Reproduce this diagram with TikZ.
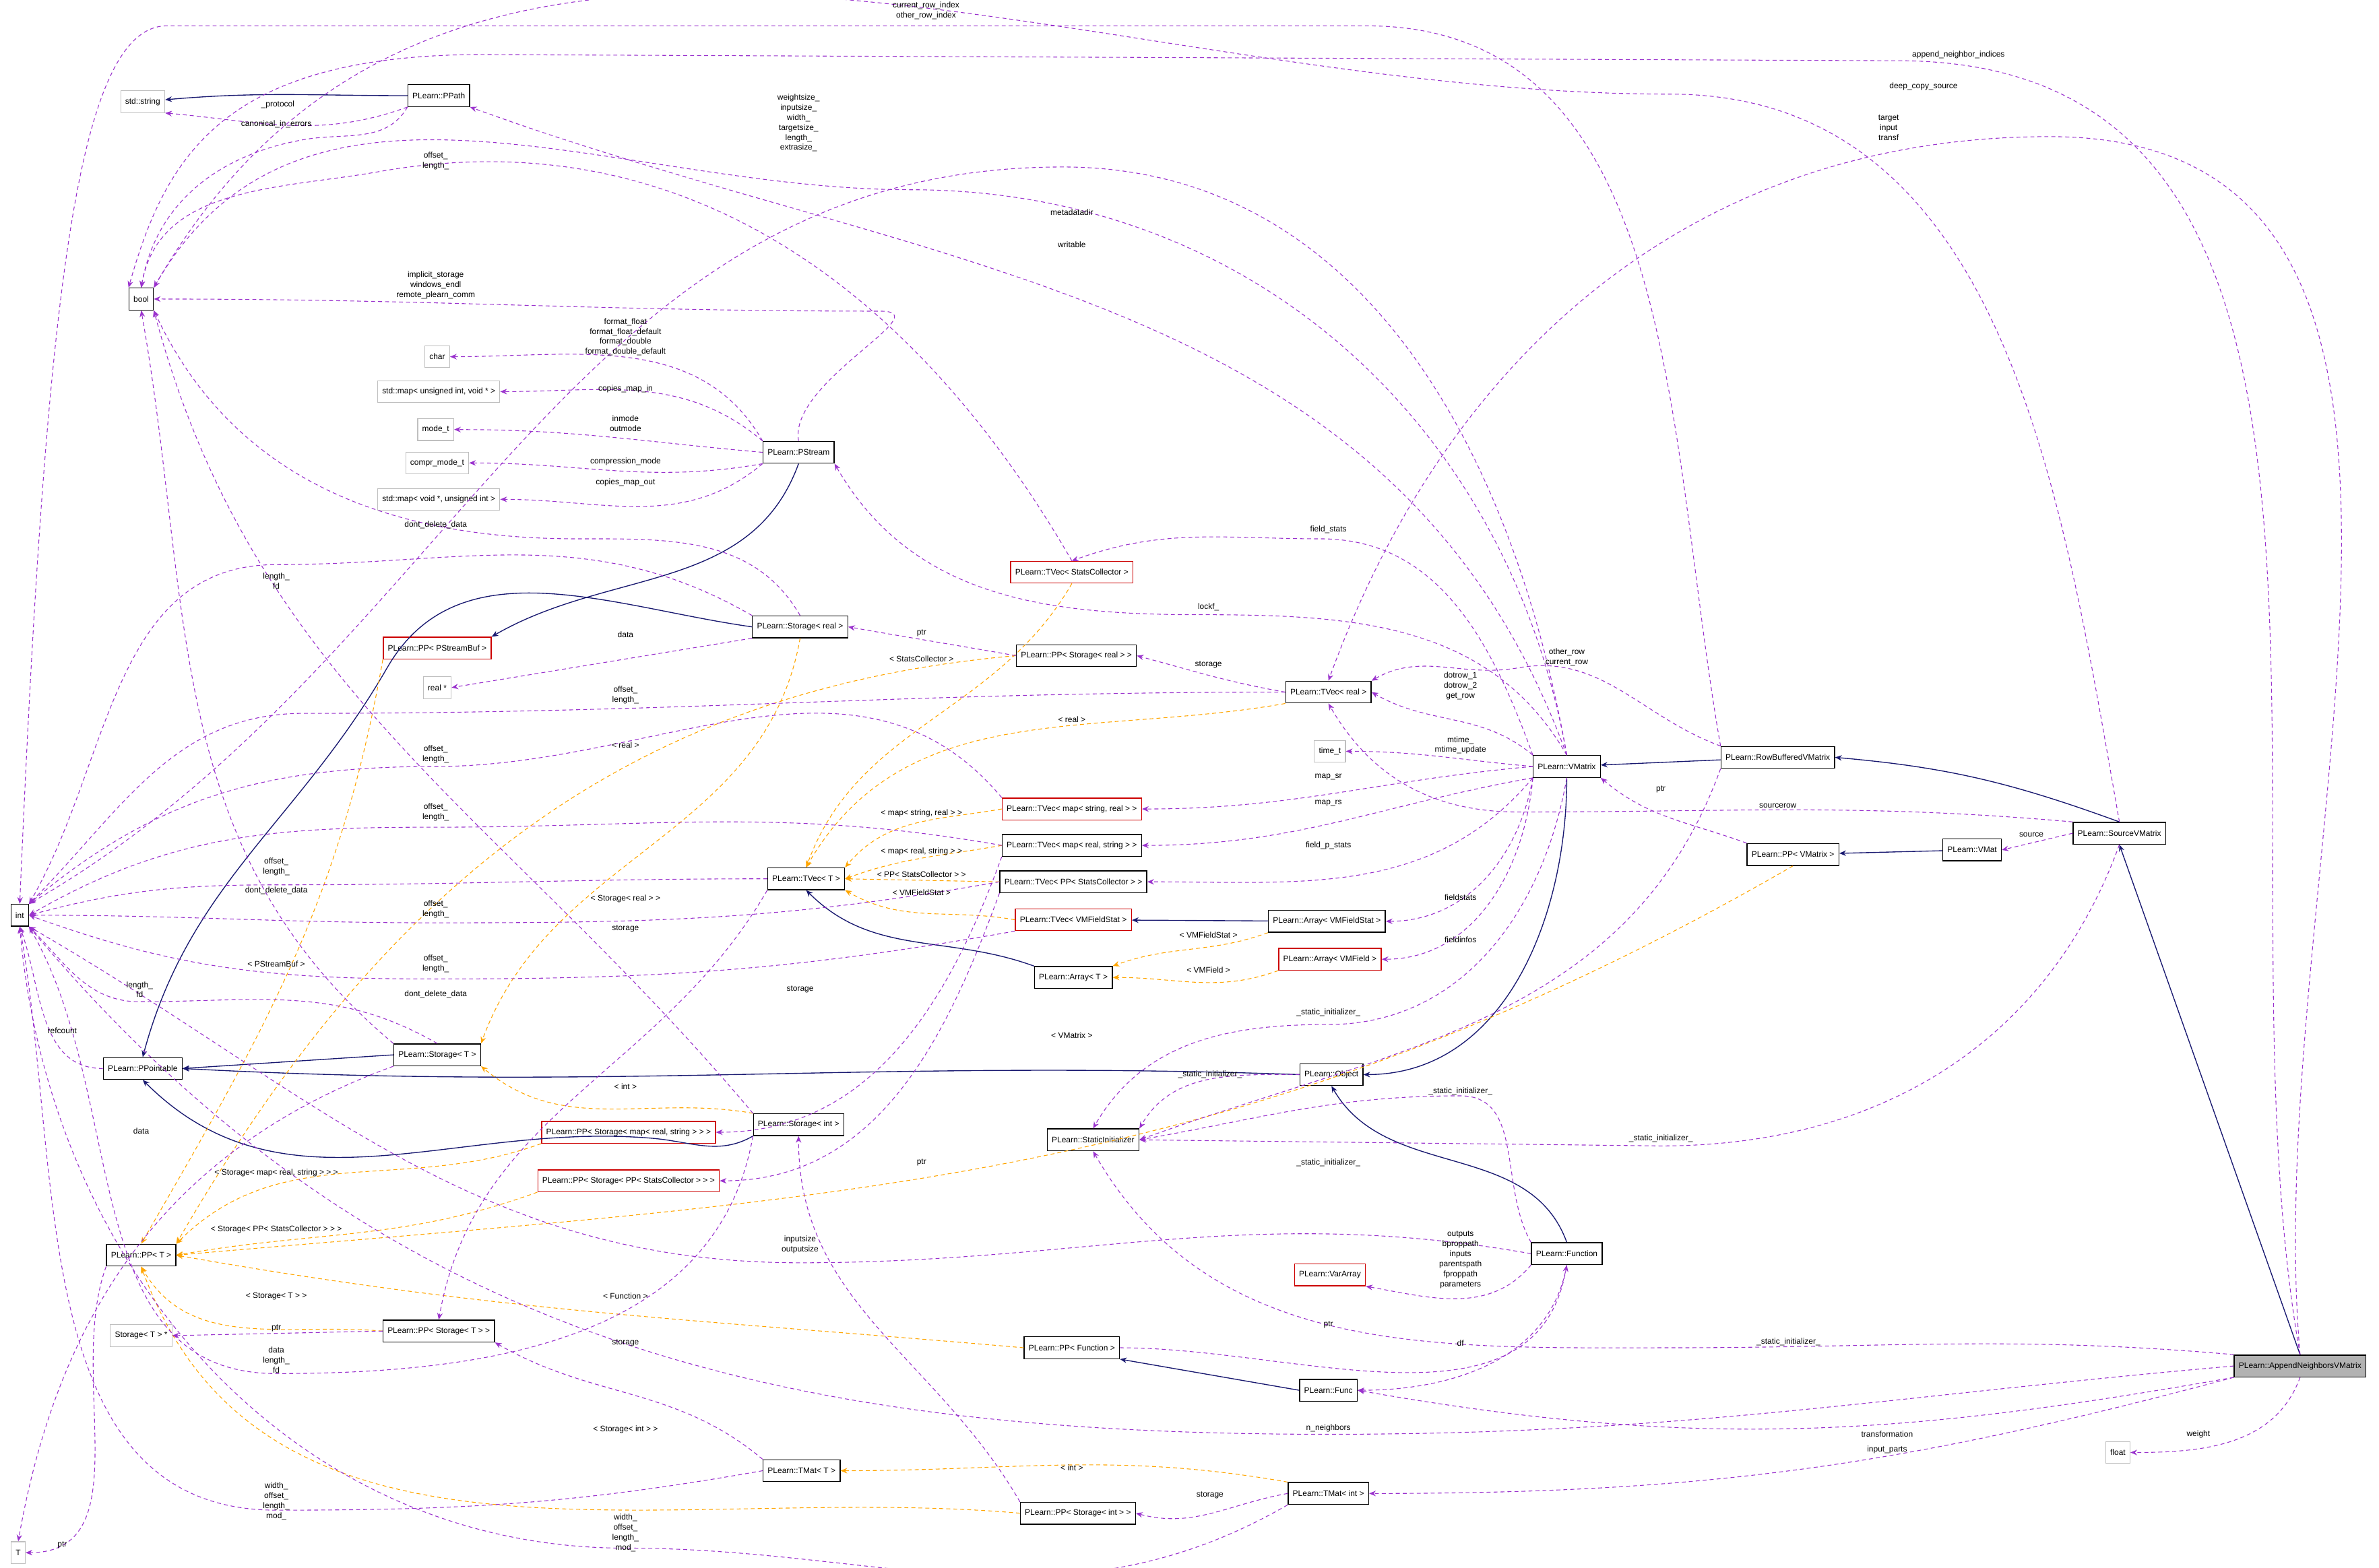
\documentclass[tikz,border=0pt]{standalone}
\usepackage{fontspec}
\setmainfont{Liberation Sans}
\usetikzlibrary{arrows.meta}
\begin{document}
\begin{tikzpicture}[x=0.25pt,y=-0.25pt,
  lbl/.style={font=\fontsize{1.33}{1.65}\selectfont, align=center, inner sep=0pt},
  cls/.style={draw=black, line width=0.15pt, fill=white, minimum height=3.6pt, inner xsep=0.75pt, inner ysep=0pt, font=\fontsize{1.33}{1.65}\selectfont},
  ext/.style={cls, draw=black!25, line width=0.12pt},
  redc/.style={cls, draw=red!80!black},
  cur/.style={cls, fill=black!30},
  pe/.style={draw={rgb,255:red,154;green,50;blue,205}, dash pattern=on 0.65pt off 0.5pt, line width=0.12pt, -{Stealth[length=1.1pt,width=0.9pt]}},
  oe/.style={pe, draw={rgb,255:red,255;green,165;blue,0}},
  ie/.style={draw={rgb,255:red,25;green,25;blue,112}, line width=0.15pt, -{Stealth[length=1.1pt,width=0.9pt]}}]
\useasboundingbox (0,0) rectangle (1567,1033);
% nodes
\node[ext] (str) at (94,67) {std::string};
\node[cls] (ppath) at (289,63) {PLearn::PPath};
\node[cls] (bool) at (93,197) {bool};
\node[ext] (char) at (288,235) {char};
\node[ext] (mapuv) at (289,258) {std::map< unsigned int, void * >};
\node[ext] (mode) at (287,283) {mode\_t};
\node[ext] (compr) at (288,305) {compr\_mode\_t};
\node[ext] (mapvu) at (289,329) {std::map< void *, unsigned int >};
\node[cls] (pstream) at (526,298) {PLearn::PStream};
\node[redc] (tvsc) at (706,377) {PLearn::TVec< StatsCollector >};
\node[cls] (streal) at (527,413) {PLearn::Storage< real >};
\node[redc] (ppsb) at (288,427) {PLearn::PP< PStreamBuf >};
\node[ext] (realp) at (288,453) {real *};
\node[cls] (ppstreal) at (709,432) {PLearn::PP< Storage< real > >};
\node[cls] (tvreal) at (875,456) {PLearn::TVec< real >};
\node[ext] (time) at (876,495) {time\_t};
\node[cls] (vmatrix) at (1032,505) {PLearn::VMatrix};
\node[cls] (rowbuf) at (1171,499) {PLearn::RowBufferedVMatrix};
\node[redc] (tvmsr) at (706,533) {PLearn::TVec< map< string, real > >};
\node[cls] (tvmrs) at (706,557) {PLearn::TVec< map< real, string > >};
\node[cls] (tvT) at (531,579) {PLearn::TVec< T >};
\node[cls] (tvppsc) at (707,581) {PLearn::TVec< PP< StatsCollector > >};
\node[cls] (int) at (13,603) {int};
\node[cls] (arrvfs) at (874,607) {PLearn::Array< VMFieldStat >};
\node[redc] (tvvfs) at (707,606) {PLearn::TVec< VMFieldStat >};
\node[redc] (arrvf) at (876,632) {PLearn::Array< VMField >};
\node[cls] (arrT) at (707,644) {PLearn::Array< T >};
\node[cls] (stT) at (288,695) {PLearn::Storage< T >};
\node[cls] (ppo) at (94,704) {PLearn::PPointable};
\node[cls] (object) at (877,708) {PLearn::Object};
\node[cls] (statini) at (720,751) {PLearn::StaticInitializer};
\node[cls] (stint) at (526,741) {PLearn::Storage< int >};
\node[redc] (ppstmap) at (414,746) {PLearn::PP< Storage< map< real, string > > >};
\node[redc] (ppstppsc) at (414,778) {PLearn::PP< Storage< PP< StatsCollector > > >};
\node[cls] (ppT) at (93,827) {PLearn::PP< T >};
\node[cls] (function) at (1032,826) {PLearn::Function};
\node[redc] (vararr) at (876,840) {PLearn::VarArray};
\node[ext] (stTp) at (93,880) {Storage< T > *};
\node[cls] (ppstT) at (289,877) {PLearn::PP< Storage< T > >};
\node[cls] (ppfun) at (706,888) {PLearn::PP< Function >};
\node[cls] (func) at (875,916) {PLearn::Func};
\node[cls] (srcvm) at (1396,549) {PLearn::SourceVMatrix};
\node[cls] (vmat) at (1299,560) {PLearn::VMat};
\node[cls] (ppvm) at (1181,563) {PLearn::PP< VMatrix >};
\node[cur] (app) at (1515,900) {PLearn::AppendNeighborsVMatrix};
\node[ext] (float) at (1395,957) {float};
\node[cls] (tmT) at (528,969) {PLearn::TMat< T >};
\node[cls] (tmint) at (875,984) {PLearn::TMat< int >};
\node[cls] (ppstint) at (710,997) {PLearn::PP< Storage< int > >};
\node[ext] (T) at (12,1023) {T};
% inheritance
\draw[ie] (ppath) to[out=180,in=5] (str);
\draw[ie] (pstream.south) to[out=-110,in=30] (ppsb.north east);
\draw[ie] (streal.west) to[out=172,in=60] (255,440) to[out=-120,in=75] (ppo.north);
\draw[ie] (stT.west) -- (ppo.east);
\draw[ie] (object.west) to[out=178,in=-3] (ppo.east);
\draw[ie] (stint.south west) to[out=-150,in=-5] (430,750) to[out=175,in=-45] (ppo.south);
\draw[ie] (arrvfs) -- (tvvfs);
\draw[ie] (arrT.north west) to[out=160,in=-45] (tvT.south);
\draw[ie] (vmatrix.south) to[out=-90,in=0] (object.east);
\draw[ie] (rowbuf) -- (vmatrix);
\draw[ie] (srcvm.north) to[out=160,in=-5] (rowbuf.east);
\draw[ie] (app.north) -- (srcvm.south);
\draw[ie] (vmat) -- (ppvm);
\draw[ie] (function.north) to[out=110,in=-60] (object.south);
\draw[ie] (func.west) -- (ppfun.south east);
% template instantiation
\draw[oe] (ppsb.south west) to[out=-100,in=60] (ppT.north);
\draw[oe] (streal.south) to[out=-100,in=70] (stT.north east);
\draw[oe] (stint.north west) to[out=170,in=-40] (stT.south east);
\draw[oe] (ppstreal.west) to[out=185,in=60] (ppT.north east);
\draw[oe] (ppstmap.south west) to[out=200,in=45] (ppT.north east);
\draw[oe] (ppstppsc.south west) to[out=200,in=10] (ppT.east);
\draw[oe] (ppstT.west) to[out=175,in=-60] (ppT.south);
\draw[oe] (ppfun.west) to[out=175,in=-10] (ppT.east);
\draw[oe] (ppvm.south) to[out=-150,in=5] (ppT.east);
\draw[oe] (ppstint.west) to[out=175,in=-70] (ppT.south);
\draw[oe] (tvsc.south) to[out=-120,in=70] (tvT.north);
\draw[oe] (tvreal.south west) to[out=190,in=60] (tvT.north);
\draw[oe] (tvmsr.west) to[out=190,in=50] (tvT.north east);
\draw[oe] (tvmrs.west) to[out=190,in=20] (tvT.east);
\draw[oe] (tvppsc.west) -- (tvT.east);
\draw[oe] (tvvfs.west) to[out=170,in=-30] (tvT.south east);
\draw[oe] (arrvfs.south west) to[out=200,in=20] (arrT.north east);
\draw[oe] (arrvf.south west) to[out=200,in=0] (arrT.east);
\draw[oe] (tmint.north west) to[out=170,in=0] (tmT.east);
% usage
\draw[pe] (ppath.south west) to[out=-160,in=-5] (str.south east);
\draw[pe] (ppath.south west) to[out=-120,in=10] (200,92) to[out=190,in=80] (bool.north);
\draw[pe] (pstream.north) to[out=100,in=0] (580,205) to[out=180,in=0] (bool.east);
\draw[pe] (pstream.north west) to[out=120,in=0] (char.east);
\draw[pe] (pstream.north west) to[out=140,in=0] (mapuv.east);
\draw[pe] (pstream.west) to[out=175,in=0] (mode.east);
\draw[pe] (pstream.south west) to[out=190,in=0] (compr.east);
\draw[pe] (pstream.south west) to[out=-140,in=0] (mapvu.east);
\draw[pe] (streal.north) to[out=120,in=0] (380,355) to[out=180,in=-65] (bool.south east);
\draw[pe] (streal.north west) to[out=150,in=0] (182,372) to[out=180,in=60] (int.north east);
\draw[pe] (streal.south west) -- (realp.east);
\draw[pe] (ppstreal.west) to[out=170,in=-10] (streal.east);
\draw[pe] (tvreal.west) to[out=170,in=-15] (ppstreal.east);
\draw[pe] (tvreal.west) to[out=180,in=0] (200,470) to[out=180,in=45] (int.north east);
\draw[pe] (vmatrix.north west) to[out=140,in=-30] (tvreal.east);
\draw[pe] (rowbuf.north west) to[out=160,in=10] (1000,440) to[out=190,in=30] (tvreal.north east);
\draw[pe] (srcvm.north west) to[out=175,in=0] (1000,535) to[out=180,in=-60] (tvreal.south);
\draw[pe] (app.north) to[out=95,in=0] (1350,90) to[out=180,in=70] (tvreal.north);
\draw[pe] (vmatrix.west) to[out=175,in=0] (time.east);
\draw[pe] (vmatrix.west) to[out=185,in=0] (tvmsr.east);
\draw[pe] (vmatrix.south west) to[out=190,in=0] (tvmrs.east);
\draw[pe] (vmatrix.south west) to[out=-130,in=0] (tvppsc.east);
\draw[pe] (vmatrix.north west) to[out=110,in=0] (870,355) to[out=180,in=20] (tvsc.north);
\draw[pe] (vmatrix.south west) to[out=-100,in=0] (arrvfs.east);
\draw[pe] (vmatrix.south west) to[out=-95,in=0] (arrvf.east);
\draw[pe] (vmatrix.south) to[out=-100,in=0] (875,675) to[out=180,in=60] (statini.north);
\draw[pe] (vmatrix.north) to[out=100,in=0] (700,110) to[out=180,in=30] (int.north east);
\draw[pe] (vmatrix.north) to[out=110,in=-20] (ppath.south east);
\draw[pe] (vmatrix.north) to[out=100,in=0] (600,125) to[out=180,in=60] (bool.north east);
\draw[pe] (vmatrix.north) to[out=120,in=0] (790,405) to[out=180,in=-60] (pstream.south east);
\draw[pe] (tvsc.north) to[out=120,in=10] (250,113) to[out=190,in=80] (bool.north);
\draw[pe] (tvmsr.north west) to[out=130,in=0] (287,505) to[out=180,in=40] (int.north east);
\draw[pe] (tvmrs.west) to[out=170,in=0] (287,545) to[out=180,in=30] (int.east);
\draw[pe] (tvT.west) to[out=180,in=0] (182,583) to[out=180,in=15] (int.east);
\draw[pe] (tvppsc.west) to[out=190,in=0] (287,608) to[out=180,in=0] (int.east);
\draw[pe] (tvvfs.south west) to[out=190,in=0] (287,645) to[out=180,in=-20] (int.east);
\draw[pe] (tvT.south west) to[out=-120,in=80] (ppstT.north);
\draw[pe] (tvmrs.south west) to[out=-110,in=0] (ppstmap.east);
\draw[pe] (tvppsc.south west) to[out=-110,in=0] (ppstppsc.east);
\draw[pe] (stT.north west) to[out=140,in=-80] (bool.south);
\draw[pe] (stT.north) to[out=150,in=0] (92,660) to[out=180,in=-45] (int.south east);
\draw[pe] (stT.south west) to[out=-160,in=80] (T.north);
\draw[pe] (stint.north west) to[out=130,in=-75] (bool.south east);
\draw[pe] (stint.south west) to[out=-100,in=0] (182,905) to[out=180,in=-60] (int.south east);
\draw[pe] (ppstT.west) -- (stTp.east);
\draw[pe] (ppT.south west) to[out=-110,in=0] (T.east);
\draw[pe] (ppstint.north west) to[out=120,in=-90] (stint.south);
\draw[pe] (ppo.west) to[out=180,in=-70] (int.south);
\draw[pe] (tmT.north west) to[out=140,in=-30] (ppstT.south east);
\draw[pe] (tmT.west) to[out=190,in=0] (182,995) to[out=180,in=-80] (int.south);
\draw[pe] (tmint.west) to[out=190,in=-15] (ppstint.east);
\draw[pe] (tmint.south west) to[out=-150,in=0] (412,1020) to[out=180,in=-85] (int.south);
\draw[pe] (object.west) to[out=180,in=60] (statini.north east);
\draw[pe] (function.north west) to[out=120,in=0] (962,722) to[out=180,in=10] (statini.east);
\draw[pe] (rowbuf.south west) to[out=-110,in=20] (statini.east);
\draw[pe] (srcvm.south) to[out=-110,in=0] (1094,755) -- (statini.east);
\draw[pe] (app.north west) to[out=175,in=0] (1100,888) to[out=180,in=-60] (statini.south);
\draw[pe] (function.south west) to[out=-130,in=-10] (vararr.south east);
\draw[pe] (function.west) to[out=170,in=0] (527,832) to[out=180,in=-30] (int.south east);
\draw[pe] (ppfun.east) to[out=0,in=-100] (function.south);
\draw[pe] (function.south) to[out=-100,in=0] (func.east);
\draw[pe] (app.south west) to[out=190,in=-10] (func.east);
\draw[pe] (app.west) to[out=185,in=0] (875,945) to[out=180,in=-50] (int.south east);
\draw[pe] (app.south west) to[out=195,in=0] (tmint.east);
\draw[pe] (app.south) to[out=-110,in=0] (float.east);
\draw[pe] (app.north) to[out=100,in=0] (1250,40) -- (330,36) .. controls (150,33) and (110,100) .. (bool.north west);
\draw[pe] (srcvm.north) to[out=100,in=0] (1100,62) to[out=180,in=60] (bool.north east);
\draw[pe] (rowbuf.north west) to[out=100,in=0] (900,17) -- (110,17) .. controls (50,17) and (30,200) .. (int.north);
\draw[pe] (ppvm.north west) to[out=160,in=-40] (vmatrix.south east);
\draw[pe] (srcvm.west) -- (vmat.east);
% labels
\node[lbl] at (183,69) {\_protocol};
\node[lbl] at (182,82) {canonical\_in\_errors};
\node[lbl] at (610,7) {current\_row\_index\\other\_row\_index};
\node[lbl] at (1290,36) {append\_neighbor\_indices};
\node[lbl] at (1267,57) {deep\_copy\_source};
\node[lbl] at (526,81) {weightsize\_\\inputsize\_\\width\_\\targetsize\_\\length\_\\extrasize\_};
\node[lbl] at (287,106) {offset\_\\length\_};
\node[lbl] at (1244,84) {target\\input\\transf};
\node[lbl] at (706,140) {metadatadir};
\node[lbl] at (706,161) {writable};
\node[lbl] at (287,188) {implicit\_storage\\windows\_endl\\remote\_plearn\_comm};
\node[lbl] at (412,222) {format\_float\\format\_float\_default\\format\_double\\format\_double\_default};
\node[lbl] at (412,256) {copies\_map\_in};
\node[lbl] at (412,279) {inmode\\outmode};
\node[lbl] at (412,304) {compression\_mode};
\node[lbl] at (412,318) {copies\_map\_out};
\node[lbl] at (287,346) {dont\_delete\_data};
\node[lbl] at (182,383) {length\_\\fd};
\node[lbl] at (412,418) {data};
\node[lbl] at (412,458) {offset\_\\length\_};
\node[lbl] at (412,491) {< real >};
\node[lbl] at (287,497) {offset\_\\length\_};
\node[lbl] at (287,535) {offset\_\\length\_};
\node[lbl] at (182,571) {offset\_\\length\_};
\node[lbl] at (182,587) {dont\_delete\_data};
\node[lbl] at (412,592) {< Storage< real > >};
\node[lbl] at (287,599) {offset\_\\length\_};
\node[lbl] at (412,612) {storage};
\node[lbl] at (182,635) {< PStreamBuf >};
\node[lbl] at (287,635) {offset\_\\length\_};
\node[lbl] at (527,652) {storage};
\node[lbl] at (92,652) {length\_\\fd};
\node[lbl] at (287,655) {dont\_delete\_data};
\node[lbl] at (41,679) {refcount};
\node[lbl] at (875,349) {field\_stats};
\node[lbl] at (796,400) {lockf\_};
\node[lbl] at (607,417) {ptr};
\node[lbl] at (607,434) {< StatsCollector >};
\node[lbl] at (796,438) {storage};
\node[lbl] at (1032,433) {other\_row\\current\_row};
\node[lbl] at (962,452) {dotrow\_1\\dotrow\_2\\get\_row};
\node[lbl] at (706,474) {< real >};
\node[lbl] at (962,491) {mtime\_\\mtime\_update};
\node[lbl] at (875,512) {map\_sr};
\node[lbl] at (875,529) {map\_rs};
\node[lbl] at (1094,520) {ptr};
\node[lbl] at (1171,531) {sourcerow};
\node[lbl] at (1338,550) {source};
\node[lbl] at (607,536) {< map< string, real > >};
\node[lbl] at (607,561) {< map< real, string > >};
\node[lbl] at (875,557) {field\_p\_stats};
\node[lbl] at (607,576) {< PP< StatsCollector > >};
\node[lbl] at (607,588) {< VMFieldStat >};
\node[lbl] at (962,591) {fieldstats};
\node[lbl] at (796,616) {< VMFieldStat >};
\node[lbl] at (962,619) {fieldinfos};
\node[lbl] at (796,639) {< VMField >};
\node[lbl] at (875,667) {\_static\_initializer\_};
\node[lbl] at (706,682) {< VMatrix >};
\node[lbl] at (797,708) {\_static\_initializer\_};
\node[lbl] at (962,719) {\_static\_initializer\_};
\node[lbl] at (1094,750) {\_static\_initializer\_};
\node[lbl] at (875,766) {\_static\_initializer\_};
\node[lbl] at (1178,884) {\_static\_initializer\_};
\node[lbl] at (412,716) {< int >};
\node[lbl] at (93,745) {data};
\node[lbl] at (182,773) {< Storage< map< real, string > > >};
\node[lbl] at (182,810) {< Storage< PP< StatsCollector > > >};
\node[lbl] at (182,854) {< Storage< T > >};
\node[lbl] at (412,854) {< Function >};
\node[lbl] at (182,875) {ptr};
\node[lbl] at (182,896) {data\\length\_\\fd};
\node[lbl] at (412,885) {storage};
\node[lbl] at (527,820) {inputsize\\outputsize};
\node[lbl] at (412,942) {< Storage< int > >};
\node[lbl] at (182,989) {width\_\\offset\_\\length\_\\mod\_};
\node[lbl] at (412,1010) {width\_\\offset\_\\length\_\\mod\_};
\node[lbl] at (41,1018) {ptr};
\node[lbl] at (962,830) {outputs\\bproppath\\inputs\\parentspath\\fproppath\\parameters};
\node[lbl] at (875,873) {ptr};
\node[lbl] at (962,885) {df};
\node[lbl] at (875,941) {n\_neighbors};
\node[lbl] at (706,967) {< int >};
\node[lbl] at (797,985) {storage};
\node[lbl] at (607,766) {ptr};
\node[lbl] at (1243,945) {transformation};
\node[lbl] at (1243,955) {input\_parts};
\node[lbl] at (1448,945) {weight};
\end{tikzpicture}
\end{document}
